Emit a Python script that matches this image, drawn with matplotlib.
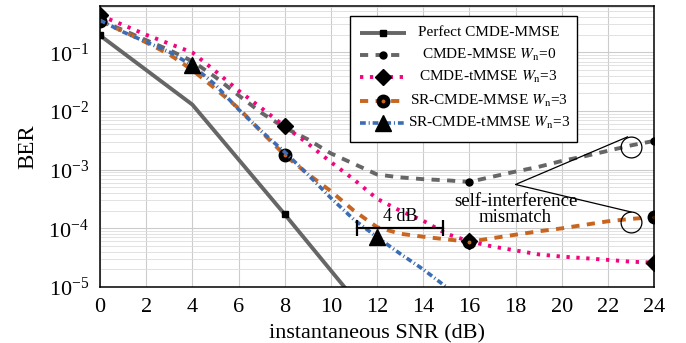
import matplotlib
matplotlib.use("Agg")
import matplotlib.pyplot as plt
from matplotlib.lines import Line2D
from matplotlib.patches import Rectangle

plt.rcParams['font.family'] = ['Liberation Serif', 'DejaVu Serif']
plt.rcParams['mathtext.fontset'] = 'stix'

# SNR grid (dB)
snr = list(range(0, 25))
snr_perfect = [0, 4, 8, 12]
snr_blue = list(range(0, 17))

# BER values
ber_perfect = [0.195, 0.0129, 1.74e-4, 2.1e-6]
ber_mmse_w0 = [0.355, 0.24, 0.162, 0.11, 0.071, 0.038, 0.0186, 9.3e-3, 5.2e-3,
               3.3e-3, 1.9e-3, 1.26e-3, 8.3e-4, 7.4e-4, 6.9e-4, 6.6e-4, 6.2e-4,
               7.6e-4, 9.3e-4, 1.12e-3, 1.41e-3, 1.7e-3, 2.1e-3, 2.6e-3, 3.1e-3]
ber_tmmse_w3 = [0.427, 0.295, 0.200, 0.141, 0.100, 0.0479, 0.0224, 0.0112, 5.5e-3,
                2.8e-3, 1.35e-3, 6.8e-4, 3.2e-4, 2.0e-4, 1.35e-4, 8.1e-5, 6.0e-5,
                4.9e-5, 4.2e-5, 3.6e-5, 3.3e-5, 3.1e-5, 2.9e-5, 2.7e-5, 2.6e-5]
ber_sr_mmse = [0.34, 0.23, 0.148, 0.093, 0.050, 0.024, 0.0112, 4.4e-3, 1.78e-3,
               8.5e-4, 4.3e-4, 2.0e-4, 1.05e-4, 8.1e-5, 7.2e-5, 6.5e-5, 5.9e-5,
               6.8e-5, 7.8e-5, 8.9e-5, 1.0e-4, 1.15e-4, 1.32e-4, 1.45e-4, 1.55e-4]
ber_sr_tmmse = [0.355, 0.224, 0.151, 0.102, 0.060, 0.028, 0.0107, 4.5e-3, 2.0e-3,
                8.3e-4, 3.3e-4, 1.41e-4, 7.1e-5, 3.7e-5, 2.0e-5, 1.0e-5, 5e-6]

labels = ['Perfect CMDE-MMSE',
          r'CMDE-MMSE $W_\mathrm{n}$=0',
          r'CMDE-tMMSE $W_\mathrm{n}$=3',
          r'SR-CMDE-MMSE $W_\mathrm{n}$=3',
          r'SR-CMDE-tMMSE $W_\mathrm{n}$=3']

GRAY = '#666666'
PINK = '#F2067F'
ORANGE = '#C8651F'
BLUE = '#3C6DB4'

styles = [
    dict(color=GRAY, lw=2.8, ls='-', marker='s', ms=4.5, mfc='k', mec='k'),
    dict(color=GRAY, lw=2.8, ls=(0, (2.1, 1.9)), marker='o', ms=5, mfc='k', mec='k'),
    dict(color=PINK, lw=2.8, ls=(0, (0.85, 1.7)), marker='D', ms=8, mfc='k', mec='k'),
    dict(color=ORANGE, lw=2.8, ls=(0, (2.1, 1.9)), marker='o', ms=9, mfc='k', mec='k'),
    dict(color=BLUE, lw=2.6, ls=(0, (1.6, 0.8, 0.3, 0.8)), marker='^', ms=11, mfc='k', mec='k'),
]

fig = plt.figure(figsize=(6.86, 3.43), dpi=100)
ax = fig.add_axes([0.1458, 0.1633, 0.8076, 0.8192])

ax.plot(snr_perfect, ber_perfect, markevery=2, solid_capstyle='butt', **styles[0])
ax.plot(snr, ber_mmse_w0, markevery=8, dash_capstyle='butt', **styles[1])
ax.plot(snr, ber_tmmse_w3, markevery=8, dash_capstyle='butt', **styles[2])
ax.plot(snr, ber_sr_mmse, markevery=8, dash_capstyle='butt', **styles[3])
ax.plot(snr, ber_sr_mmse, ls='none', marker='o', ms=1.8, color=ORANGE, markevery=8)
ax.plot(snr_blue, ber_sr_tmmse, markevery=(4, 8), dash_capstyle='butt', **styles[4])

ax.set_yscale('log')
ax.set_xlim(0, 24)
ax.set_ylim(1e-5, 0.62)
ax.set_xticks(range(0, 25, 2))
ax.set_yticks([1e-5, 1e-4, 1e-3, 1e-2, 1e-1])
ax.tick_params(labelsize=16, direction='in', length=0, which='both', pad=8)
ax.grid(True, which='major', color='#cccccc', lw=0.8)
ax.grid(True, which='minor', axis='y', color='#dddddd', lw=0.6)
ax.set_axisbelow(True)
for s in ax.spines.values():
    s.set_linewidth(1.1)

ax.set_xlabel('instantaneous SNR (dB)', fontsize=16, labelpad=5)
ax.set_ylabel('BER', fontsize=16.5, labelpad=7)

# self-interference annotation
ax.plot([23], [10 ** -2.61], 'o', mfc='none', mec='k', ms=15, mew=0.9)
ax.plot([23], [10 ** -3.89], 'o', mfc='none', mec='k', ms=15, mew=0.9)
ax.plot([22.85, 18.0, 23.0], [10 ** -2.44, 5.6e-4, 10 ** -3.72], color='k', lw=0.9)
ax.text(18.0, 10 ** -3.68, 'self-interference\nmismatch', ha='center', va='center',
        fontsize=13.5, linespacing=0.9)

# 4 dB gap marker
ax.plot([11.15, 14.85], [1e-4, 1e-4], color='k', lw=1.6, marker='|', ms=12, mew=1.6)
ax.text(13.0, 10 ** -3.79, '4 dB', ha='center', va='center', fontsize=13)

# legend drawn by hand so the entries can be centred
tr = ax.transAxes
ax.add_patch(Rectangle((0.4513, 0.516), 0.4097, 0.4484, transform=tr, fc='white',
                       ec='k', lw=1.0, zorder=5))
rows = [0.905, 0.8256, 0.7463, 0.663, 0.5826]
for i, (y, st) in enumerate(zip(rows, styles)):
    line = Line2D([0.469, 0.552], [y, y], transform=tr, color=st['color'], lw=st['lw'],
                  ls=st['ls'], zorder=6, dash_capstyle='butt', solid_capstyle='butt')
    ax.add_line(line)
    mk = Line2D([0.5105], [y], transform=tr, ls='none', marker=st['marker'], ms=st['ms'],
                mfc=st['mfc'], mec=st['mec'], zorder=7)
    ax.add_line(mk)
    if i == 3:
        ax.add_line(Line2D([0.5105], [y], transform=tr, ls='none', marker='o', ms=1.8,
                           color=ORANGE, zorder=8))
    ax.text(0.7016, y, labels[i], transform=tr, ha='center', va='center', fontsize=11,
            zorder=8)

fig.savefig('out.png', dpi=100)
